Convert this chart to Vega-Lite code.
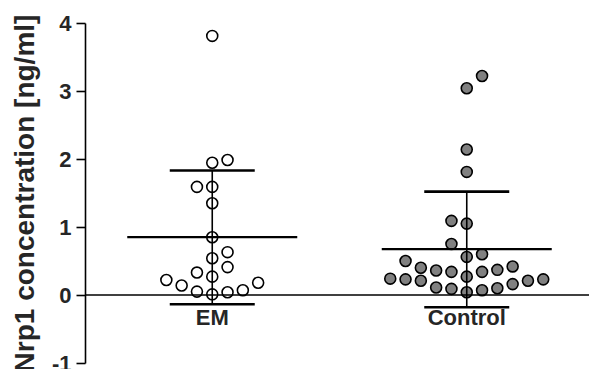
{
  "$schema": "https://vega.github.io/schema/vega-lite/v6.json",
  "width": 504,
  "height": 340,
  "autosize": {"type": "none"},
  "padding": {"left": 85, "top": 23, "right": 0, "bottom": 6},
  "background": "white",
  "config": {
    "view": {"stroke": null},
    "font": "Liberation Sans"
  },
  "datasets": {
    "points": [
      {"group": "EM", "value": 3.81, "col": 0},
      {"group": "EM", "value": 1.985, "col": 1},
      {"group": "EM", "value": 1.945, "col": 0},
      {"group": "EM", "value": 1.59, "col": -1},
      {"group": "EM", "value": 1.59, "col": 0},
      {"group": "EM", "value": 1.35, "col": 0},
      {"group": "EM", "value": 0.85, "col": 0},
      {"group": "EM", "value": 0.63, "col": 1},
      {"group": "EM", "value": 0.54, "col": 0},
      {"group": "EM", "value": 0.41, "col": 1},
      {"group": "EM", "value": 0.33, "col": -1},
      {"group": "EM", "value": 0.27, "col": 0},
      {"group": "EM", "value": 0.22, "col": -3},
      {"group": "EM", "value": 0.14, "col": -2},
      {"group": "EM", "value": 0.05, "col": -1},
      {"group": "EM", "value": 0.01, "col": 0},
      {"group": "EM", "value": 0.04, "col": 1},
      {"group": "EM", "value": 0.07, "col": 2},
      {"group": "EM", "value": 0.18, "col": 3},
      {"group": "Control", "value": 3.22, "col": 1},
      {"group": "Control", "value": 3.04, "col": 0},
      {"group": "Control", "value": 2.14, "col": 0},
      {"group": "Control", "value": 1.81, "col": 0},
      {"group": "Control", "value": 1.09, "col": -1},
      {"group": "Control", "value": 1.05, "col": 0},
      {"group": "Control", "value": 0.75, "col": -1},
      {"group": "Control", "value": 0.56, "col": 0},
      {"group": "Control", "value": 0.6, "col": 1},
      {"group": "Control", "value": 0.5, "col": -4},
      {"group": "Control", "value": 0.4, "col": -3},
      {"group": "Control", "value": 0.36, "col": -2},
      {"group": "Control", "value": 0.34, "col": -1},
      {"group": "Control", "value": 0.27, "col": 0},
      {"group": "Control", "value": 0.34, "col": 1},
      {"group": "Control", "value": 0.37, "col": 2},
      {"group": "Control", "value": 0.42, "col": 3},
      {"group": "Control", "value": 0.24, "col": -5},
      {"group": "Control", "value": 0.23, "col": -4},
      {"group": "Control", "value": 0.21, "col": -3},
      {"group": "Control", "value": 0.11, "col": -2},
      {"group": "Control", "value": 0.09, "col": -1},
      {"group": "Control", "value": 0.04, "col": 0},
      {"group": "Control", "value": 0.07, "col": 1},
      {"group": "Control", "value": 0.1, "col": 2},
      {"group": "Control", "value": 0.16, "col": 3},
      {"group": "Control", "value": 0.21, "col": 4},
      {"group": "Control", "value": 0.23, "col": 5}
    ],
    "summary": [
      {"group": "EM", "mean": 0.85, "lo": -0.135, "hi": 1.83},
      {"group": "Control", "mean": 0.675, "lo": -0.18, "hi": 1.52}
    ]
  },
  "encoding": {
    "x": {
      "field": "group",
      "type": "nominal",
      "sort": ["EM", "Control"],
      "scale": {"range": [0, 509], "paddingInner": 0, "paddingOuter": 0},
      "axis": {
        "title": null,
        "domain": false,
        "ticks": false,
        "labelAngle": 0,
        "labelFont": "Liberation Sans",
        "labelFontSize": 22,
        "labelFontWeight": "bold",
        "labelColor": "#262626",
        "labelPadding": 0,
        "offset": -56
      }
    }
  },
  "layer": [
    {
      "data": {"name": "points"},
      "mark": {"type": "point", "shape": "circle", "filled": false, "size": 120, "strokeWidth": 1.6, "stroke": "black", "opacity": 1},
      "encoding": {
        "xOffset": {"field": "col", "type": "quantitative", "scale": {"domain": [-1, 1], "range": [111.95, 142.55]}},
        "y": {
          "field": "value",
          "type": "quantitative",
          "scale": {"domain": [-1, 4], "nice": false, "zero": false},
          "axis": {
            "values": [-1, 0, 1, 2, 3, 4],
            "labelExpr": "datum.value + ''",
            "grid": false,
            "domainColor": "black",
            "domainWidth": 1.6,
            "tickColor": "black",
            "tickWidth": 1.6,
            "tickSize": 9,
            "labelPadding": 5,
            "labelFont": "Liberation Sans",
            "labelFontSize": 22,
            "labelFontWeight": "bold",
            "labelColor": "#262626",
            "title": "Nrp1 concentration [ng/ml]",
            "titleFont": "Liberation Sans",
            "titleFontSize": 28,
            "titleFontWeight": "bold",
            "titleColor": "#262626",
            "titlePadding": 12
          }
        },
        "fill": {
          "field": "group",
          "type": "nominal",
          "scale": {"domain": ["EM", "Control"], "range": ["white", "#808080"]},
          "legend": null
        }
      }
    },
    {
      "data": {"name": "summary"},
      "mark": {"type": "rule", "color": "black", "strokeWidth": 1.6},
      "encoding": {
        "y": {"field": "lo", "type": "quantitative"},
        "y2": {"field": "hi"}
      }
    },
    {
      "data": {"name": "summary"},
      "mark": {"type": "tick", "color": "black", "size": 170, "thickness": 2.2, "opacity": 1},
      "encoding": {"y": {"field": "mean", "type": "quantitative"}}
    },
    {
      "data": {"name": "summary"},
      "mark": {"type": "tick", "color": "black", "size": 85, "thickness": 2.6, "opacity": 1},
      "encoding": {"y": {"field": "hi", "type": "quantitative"}}
    },
    {
      "data": {"name": "summary"},
      "mark": {"type": "tick", "color": "black", "size": 85, "thickness": 2.6, "opacity": 1},
      "encoding": {"y": {"field": "lo", "type": "quantitative"}}
    },
    {
      "data": {"values": [{}]},
      "mark": {"type": "rule", "color": "black", "strokeWidth": 1.4},
      "encoding": {"y": {"datum": 0, "type": "quantitative"}, "x": {"value": 0}, "x2": {"value": 504}}
    }
  ]
}
